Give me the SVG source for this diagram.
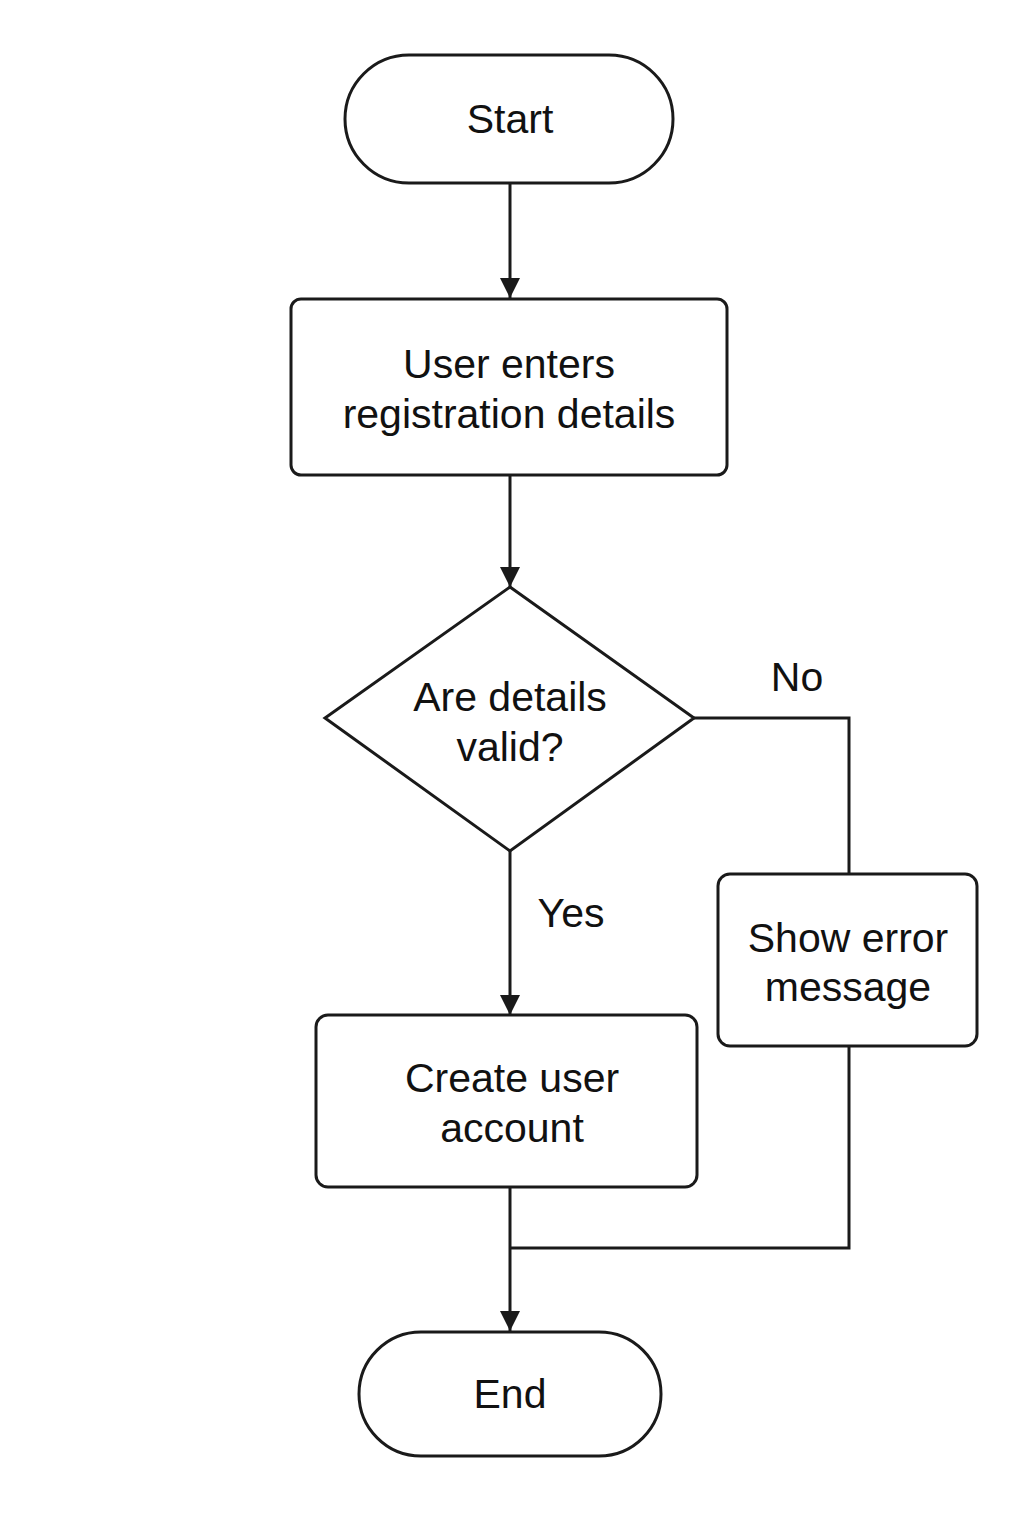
<svg xmlns="http://www.w3.org/2000/svg" width="1024" height="1536" viewBox="0 0 1024 1536">
<defs>
<marker id="arr" markerWidth="20" markerHeight="20" refX="20" refY="10" orient="auto" markerUnits="userSpaceOnUse">
<path d="M0,0 L20,10 L0,20 Z" fill="#1a1a1a"/>
</marker>
<style>
.shape{fill:#fff;stroke:#1a1a1a;stroke-width:3}
.line{fill:none;stroke:#1a1a1a;stroke-width:3}
text{font-family:"Liberation Sans",Arial,sans-serif;font-size:41px;fill:#111;text-anchor:middle}
</style>
</defs>
<rect width="1024" height="1536" fill="#fff"/>
<g id="connectors">
<line class="line" x1="510" y1="183" x2="510" y2="298" marker-end="url(#arr)"/>
<line class="line" x1="510" y1="475" x2="510" y2="587" marker-end="url(#arr)"/>
<polyline class="line" points="694,718 849,718 849,874"/>
<line class="line" x1="510" y1="851" x2="510" y2="1015" marker-end="url(#arr)"/>
<line class="line" x1="510" y1="1187" x2="510" y2="1331" marker-end="url(#arr)"/>
<polyline class="line" points="849,1046 849,1248 510,1248"/>
<text x="797" y="691">No</text>
<text x="571" y="927">Yes</text>
</g>
<g id="start">
<rect class="shape" x="345" y="55" width="328" height="128" rx="64"/>
<text x="510" y="133">Start</text>
</g>
<g id="enter">
<rect class="shape" x="291" y="299" width="436" height="176" rx="10"/>
<text x="509" y="378">User enters</text>
<text x="509" y="428">registration details</text>
</g>
<g id="valid">
<polygon class="shape" points="510,587 694,718 510,851 325,718"/>
<text x="510" y="711">Are details</text>
<text x="510" y="761">valid?</text>
</g>
<g id="error">
<rect class="shape" x="718" y="874" width="259" height="172" rx="12"/>
<text x="848" y="952">Show error</text>
<text x="848" y="1001">message</text>
</g>
<g id="create">
<rect class="shape" x="316" y="1015" width="381" height="172" rx="12"/>
<text x="512" y="1092">Create user</text>
<text x="512" y="1142">account</text>
</g>
<g id="end">
<rect class="shape" x="359" y="1332" width="302" height="124" rx="62"/>
<text x="510" y="1408">End</text>
</g>
</svg>
